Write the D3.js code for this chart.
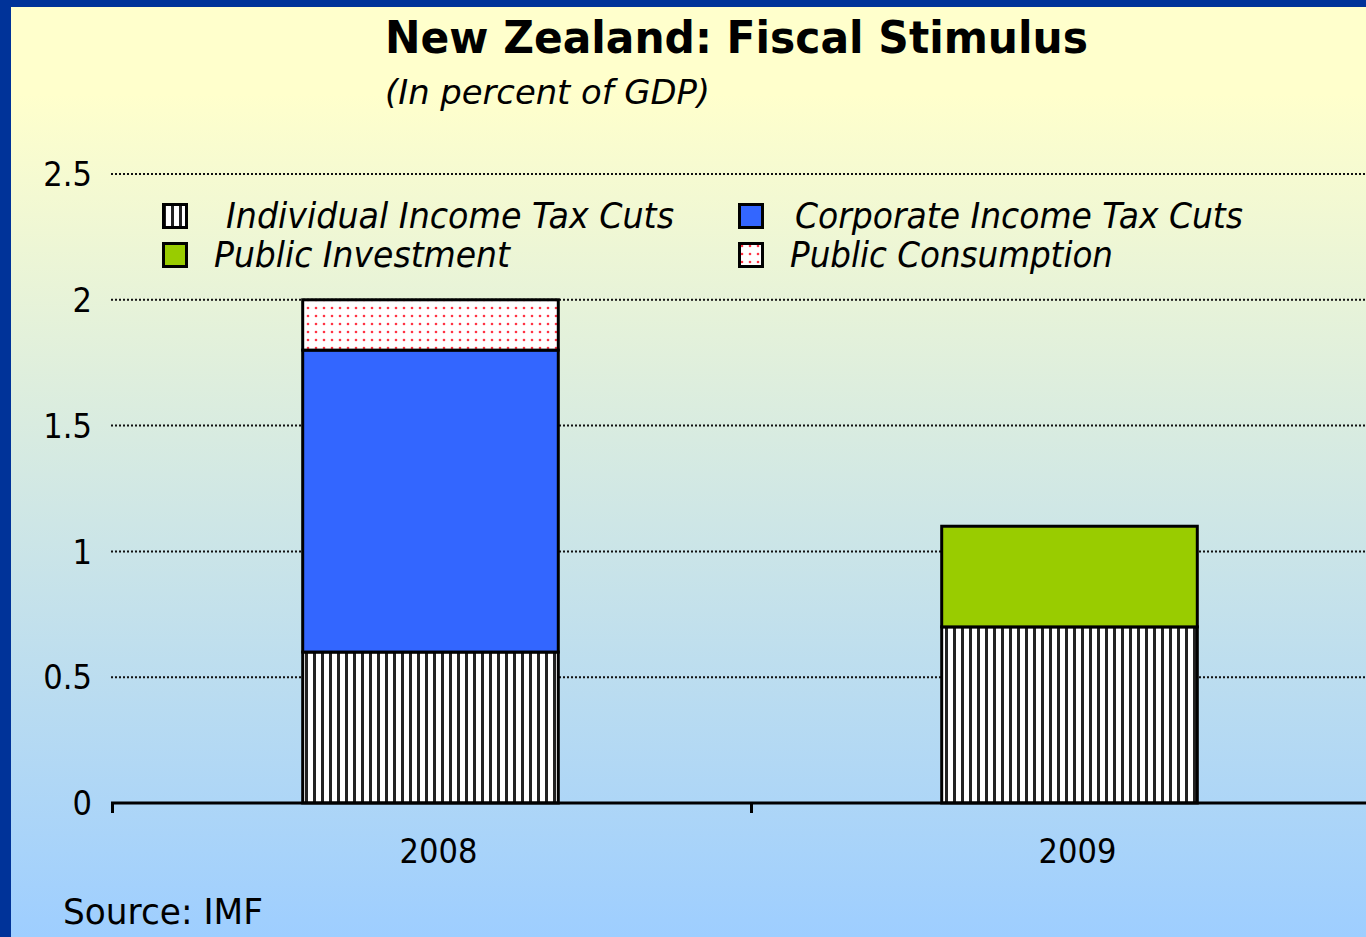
<!DOCTYPE html>
<html>
<head>
<meta charset="utf-8">
<script src="https://cdn.jsdelivr.net/npm/d3@7"></script>
<style>
  html, body { margin: 0; padding: 0; background: #ffffff; }
  svg { display: block; }
</style>
</head>
<body>
<svg id="chart" width="1366" height="937"></svg>
<script>
// ---- data -------------------------------------------------------------
const categories = ["2008", "2009"];
const individualTaxCuts = [0.6, 0.7];
const corporateTaxCuts = [1.2, 0];
const publicInvestment = [0, 0.4];
const publicConsumption = [0.2, 0];

const seriesKeys = ["individual", "corporate", "investment", "consumption"];
const seriesLabels = [
  "Individual Income Tax Cuts",
  "Corporate Income Tax Cuts",
  "Public Investment",
  "Public Consumption"
];
const yTickValues = [0, 0.5, 1, 1.5, 2, 2.5];
const yTickLabels = ["0", "0.5", "1", "1.5", "2", "2.5"];

const titleText = "New Zealand: Fiscal Stimulus";
const subtitleText = "(In percent of GDP)";
const sourceText = "Source: IMF";

// ---- layout & style ---------------------------------------------------
const W = 1366, H = 937;
const plot = { left: 111, right: 1389, top: 174, bottom: 803 };
const fills = {
  individual: "url(#stripes)",
  corporate: "#3366FF",
  investment: "#99CC00",
  consumption: "url(#dots)"
};
const bodyFont = "'DejaVu Sans Condensed', 'DejaVu Sans', sans-serif";
const titleFont = "'DejaVu Sans', sans-serif";

const svg = d3.select("#chart");
const defs = svg.append("defs");

// background gradient: pale yellow fading into light blue
const grad = defs.append("linearGradient")
  .attr("id", "bg").attr("x1", 0).attr("y1", 0).attr("x2", 0).attr("y2", 1);
grad.append("stop").attr("offset", "0").attr("stop-color", "#FFFFCC");
grad.append("stop").attr("offset", "0.1").attr("stop-color", "#FFFFCC");
grad.append("stop").attr("offset", "1").attr("stop-color", "#9ECEFF");

// vertical stripe hatch
const stripes = defs.append("pattern")
  .attr("id", "stripes").attr("patternUnits", "userSpaceOnUse")
  .attr("width", 8).attr("height", 8);
stripes.append("rect").attr("width", 8).attr("height", 8).attr("fill", "#ffffff");
stripes.append("rect").attr("x", 1).attr("width", 3).attr("height", 8).attr("fill", "#222");

// sparse red dots
const dots = defs.append("pattern")
  .attr("id", "dots").attr("patternUnits", "userSpaceOnUse")
  .attr("width", 8).attr("height", 8);
dots.append("rect").attr("width", 8).attr("height", 8).attr("fill", "#ffffff");
dots.append("circle").attr("cx", 4).attr("cy", 4).attr("r", 1.3).attr("fill", "#FF3344");

svg.append("rect").attr("width", W).attr("height", H).attr("fill", "url(#bg)");
// frame
svg.append("rect").attr("x", 0).attr("y", 0).attr("width", W).attr("height", 7).attr("fill", "#003399");
svg.append("rect").attr("x", 0).attr("y", 0).attr("width", 11).attr("height", H).attr("fill", "#003399");

// ---- scales -----------------------------------------------------------
const x = d3.scaleBand()
  .domain(categories)
  .range([plot.left, plot.right])
  .paddingInner(0.6)
  .paddingOuter(0.3);

const y = d3.scaleLinear()
  .domain([0, 2.5])
  .range([plot.bottom, plot.top]);

// ---- gridlines --------------------------------------------------------
svg.append("g")
  .selectAll("line")
  .data(yTickValues.filter(v => v > 0))
  .join("line")
  .attr("x1", plot.left).attr("x2", W)
  .attr("y1", d => y(d)).attr("y2", d => y(d))
  .attr("stroke", "#111").attr("stroke-width", 2)
  .attr("stroke-dasharray", "2,2");

// y tick labels
svg.append("g")
  .selectAll("text")
  .data(yTickValues)
  .join("text")
  .attr("x", 92)
  .attr("y", d => y(d))
  .attr("dy", "0.36em")
  .attr("text-anchor", "end")
  .attr("font-family", bodyFont)
  .attr("font-size", 34)
  .attr("fill", "#000")
  .text((d, i) => yTickLabels[i]);

// ---- stacked bars -----------------------------------------------------
const rows = categories.map((c, i) => ({
  year: c,
  individual: individualTaxCuts[i],
  corporate: corporateTaxCuts[i],
  investment: publicInvestment[i],
  consumption: publicConsumption[i]
}));
const stacked = d3.stack().keys(seriesKeys)(rows);

svg.append("g")
  .selectAll("g")
  .data(stacked)
  .join("g")
  .attr("fill", d => fills[d.key])
  .selectAll("rect")
  .data(d => d.filter(s => s[1] - s[0] > 0))
  .join("rect")
  .attr("x", d => x(d.data.year))
  .attr("width", x.bandwidth())
  .attr("y", d => y(d[1]))
  .attr("height", d => y(d[0]) - y(d[1]))
  .attr("stroke", "#000")
  .attr("stroke-width", 3);

// ---- x axis -----------------------------------------------------------
const step = x.step();
const boundaries = [plot.left].concat(categories.map((c, i) => plot.left + step * (i + 1)));
const xAxis = svg.append("g");
xAxis.append("line")
  .attr("x1", plot.left).attr("x2", W)
  .attr("y1", plot.bottom).attr("y2", plot.bottom)
  .attr("stroke", "#000").attr("stroke-width", 3);
xAxis.selectAll("line.tick")
  .data(boundaries)
  .join("line")
  .attr("class", "tick")
  .attr("x1", d => d + 1.5).attr("x2", d => d + 1.5)
  .attr("y1", plot.bottom).attr("y2", plot.bottom + 10)
  .attr("stroke", "#000").attr("stroke-width", 3);
xAxis.selectAll("text")
  .data(categories)
  .join("text")
  .attr("x", d => x(d) + x.bandwidth() / 2 + 8)
  .attr("y", 863)
  .attr("text-anchor", "middle")
  .attr("font-family", bodyFont)
  .attr("font-size", 34)
  .attr("fill", "#000")
  .text(d => d);

// ---- titles -----------------------------------------------------------
svg.append("text")
  .attr("x", 385).attr("y", 53)
  .attr("font-family", titleFont)
  .attr("font-weight", "bold")
  .attr("font-size", 45)
  .attr("textLength", 703)
  .attr("lengthAdjust", "spacingAndGlyphs")
  .attr("fill", "#000")
  .text(titleText);

svg.append("text")
  .attr("x", 385).attr("y", 104)
  .attr("font-family", bodyFont)
  .attr("font-style", "italic")
  .attr("font-size", 33)
  .attr("textLength", 325)
  .attr("lengthAdjust", "spacingAndGlyphs")
  .attr("fill", "#000")
  .text(subtitleText);

// ---- legend -----------------------------------------------------------
const legendCols = [162, 738];
const legendRows = [203, 242];
const legendTextWidths = [448, 448, 296, 323];
const legend = svg.append("g")
  .selectAll("g")
  .data(seriesKeys)
  .join("g")
  .attr("transform", (d, i) => `translate(${legendCols[i % 2]},${legendRows[Math.floor(i / 2)]})`);
legend.append("rect")
  .attr("x", 1.5).attr("y", 1.5)
  .attr("width", 23).attr("height", 23)
  .attr("fill", d => fills[d])
  .attr("stroke", "#000").attr("stroke-width", 3);
legend.append("text")
  .attr("x", (d, i) => i === 0 ? 64 : (i === 1 ? 57 : 52))
  .attr("y", 25)
  .attr("font-family", bodyFont)
  .attr("font-style", "italic")
  .attr("font-size", 36)
  .attr("textLength", (d, i) => legendTextWidths[i])
  .attr("lengthAdjust", "spacingAndGlyphs")
  .attr("fill", "#000")
  .text((d, i) => seriesLabels[i]);

// ---- source note ------------------------------------------------------
svg.append("text")
  .attr("x", 63).attr("y", 924)
  .attr("font-family", bodyFont)
  .attr("font-size", 36)
  .attr("textLength", 200)
  .attr("lengthAdjust", "spacingAndGlyphs")
  .attr("fill", "#000")
  .text(sourceText);
</script>
</body>
</html>
